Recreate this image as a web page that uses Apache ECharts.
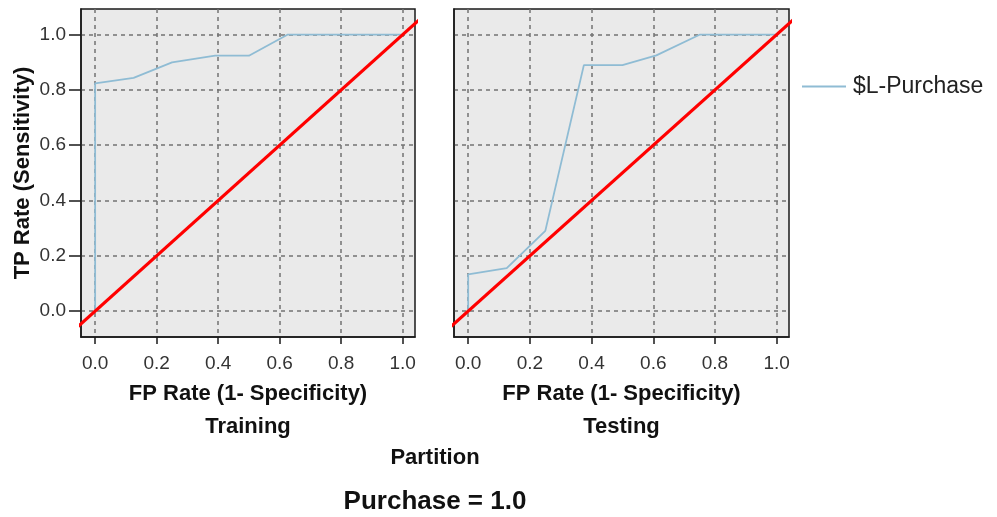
<!DOCTYPE html>
<html>
<head>
    <meta charset="utf-8">
    <title>ROC - Purchase = 1.0</title>
    <script src="https://cdn.jsdelivr.net/npm/echarts@6/dist/echarts.min.js"></script>
    <style>
        html, body { margin: 0; padding: 0; background: #fff; }
        #main { width: 997px; height: 517px; }
    </style>
</head>
<body>
<div id="main"></div>
<script>
    // ---- data ----
    var xTicks = [0, 0.2, 0.4, 0.6, 0.8, 1.0];
    var yTicks = [0, 0.2, 0.4, 0.6, 0.8, 1.0];
    var trainFpr = [0, 0, 0.125, 0.25, 0.39, 0.5, 0.625, 1.0];
    var trainTpr = [0, 0.824, 0.844, 0.9, 0.924, 0.924, 1.0, 1.0];
    var testFpr = [0, 0, 0.125, 0.25, 0.375, 0.5, 0.61, 0.75, 1.0];
    var testTpr = [0, 0.133, 0.155, 0.29, 0.89, 0.89, 0.925, 1.0, 1.0];
    var diagonal = [-0.1, 1.1];
    var partitions = ['Training', 'Testing'];
    var seriesName = '$L-Purchase';

    var FONT = '"Liberation Sans", Arial, sans-serif';

    function pairs(xs, ys) {
        var out = [];
        for (var i = 0; i < xs.length; i++) out.push([xs[i], ys[i]]);
        return out;
    }

    var chart = echarts.init(document.getElementById('main'));

    var grids = [
        {left: 81, top: 9, width: 334, height: 328},
        {left: 454, top: 9, width: 335, height: 328}
    ];

    var frameLine = {show: true, onZero: false, lineStyle: {color: '#1a1a1a', width: 1.5}};

    var xAxes = [], yAxes = [], series = [], titles = [];
    grids.forEach(function (g, i) {
        g.show = true;
        g.backgroundColor = '#eaeaea';
        g.borderColor = '#1a1a1a';
        g.borderWidth = 1.5;

        xAxes.push({
            gridIndex: i,
            type: 'value',
            position: 'bottom',
            min: -0.046,
            max: 1.04,
            name: 'FP Rate (1- Specificity)',
            nameLocation: 'middle',
            nameGap: 46,
            nameTextStyle: {fontFamily: FONT, fontWeight: 'bold', fontSize: 22, color: '#111'},
            axisLine: frameLine,
            axisTick: {show: true, inside: false, length: 7, customValues: xTicks,
                lineStyle: {color: '#1a1a1a', width: 1.5}},
            axisLabel: {customValues: xTicks, margin: 17, fontFamily: FONT, fontSize: 19, color: '#333',
                formatter: function (v) { return v.toFixed(1); }},
            splitLine: {show: true, lineStyle: {color: '#737373', type: [4, 4], width: 1.5}}
        });
        yAxes.push({
            gridIndex: i,
            type: 'value',
            position: 'left',
            min: -0.094,
            max: 1.093,
            name: i === 0 ? 'TP Rate (Sensitivity)' : '',
            nameLocation: 'middle',
            nameGap: 47,
            nameTextStyle: {fontFamily: FONT, fontWeight: 'bold', fontSize: 22, color: '#111'},
            axisLine: frameLine,
            axisTick: {show: i === 0, inside: false, length: 12, customValues: yTicks,
                lineStyle: {color: '#1a1a1a', width: 1.5}},
            axisLabel: {show: i === 0, customValues: yTicks, margin: 15, fontFamily: FONT, fontSize: 19, color: '#333',
                formatter: function (v) { return v.toFixed(1); }},
            splitLine: {show: true, lineStyle: {color: '#737373', type: [4, 4], width: 1.5}}
        });

        titles.push({
            text: partitions[i],
            left: g.left + g.width / 2,
            top: 416,
            textAlign: 'center',
            padding: 0,
            textStyle: {fontFamily: FONT, fontWeight: 'bold', fontSize: 22, color: '#111'}
        });
    });

    series.push({
        name: seriesName, type: 'line', xAxisIndex: 0, yAxisIndex: 0,
        data: pairs(trainFpr, trainTpr), symbol: 'none', z: 2,
        lineStyle: {color: '#8fbcd4', width: 1.8}, itemStyle: {color: '#8fbcd4'}
    });
    series.push({
        name: seriesName, type: 'line', xAxisIndex: 1, yAxisIndex: 1,
        data: pairs(testFpr, testTpr), symbol: 'none', z: 2,
        lineStyle: {color: '#8fbcd4', width: 1.8}, itemStyle: {color: '#8fbcd4'}
    });
    [0, 1].forEach(function (i) {
        series.push({
            name: 'diagonal', type: 'line', xAxisIndex: i, yAxisIndex: i,
            data: pairs(diagonal, diagonal), symbol: 'none', z: 3, silent: true,
            lineStyle: {color: '#ff0000', width: 3.2}
        });
    });

    titles.push({
        text: 'Partition', left: 435, top: 447, textAlign: 'center', padding: 0,
        textStyle: {fontFamily: FONT, fontWeight: 'bold', fontSize: 22, color: '#111'}
    });
    titles.push({
        text: 'Purchase = 1.0', left: 435, top: 489, textAlign: 'center', padding: 0,
        textStyle: {fontFamily: FONT, fontWeight: 'bold', fontSize: 26, color: '#111'}
    });

    var option = {
        animation: false,
        backgroundColor: '#fff',
        title: titles,
        legend: {
            data: [seriesName],
            left: 802, top: 75,
            padding: 0,
            icon: 'rect',
            itemWidth: 44, itemHeight: 2,
            itemStyle: {color: '#8fbcd4'},
            textStyle: {fontFamily: FONT, fontSize: 23, color: '#222', padding: [0, 0, 0, 2]}
        },
        grid: grids,
        xAxis: xAxes,
        yAxis: yAxes,
        series: series
    };

    chart.setOption(option);
</script>
</body>
</html>
